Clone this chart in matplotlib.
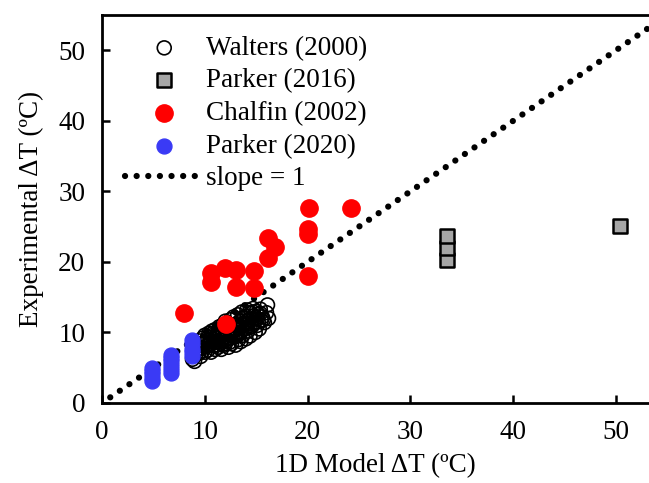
import numpy as np
import matplotlib.pyplot as plt

plt.rcParams['font.family'] = ['Liberation Serif', 'DejaVu Serif']
plt.rcParams['font.size'] = 19.5

# Walters (2000) - open circles
walters_x = [8.8, 9.0, 9.1, 9.2, 9.3, 9.4, 9.5, 9.6, 9.7, 9.8, 9.9, 10.0, 10.0, 10.1,
             10.2, 10.2, 10.3, 10.4, 10.5, 10.5, 10.6, 10.6, 10.7, 10.8, 10.8, 10.9,
             10.9, 11.0, 11.0, 11.1, 11.2, 11.2, 11.3, 11.4, 11.4, 11.5, 11.5, 11.6,
             11.6, 11.7, 11.8, 11.8, 11.9, 12.0, 12.0, 12.0, 12.1, 12.2, 12.2, 12.3,
             12.4, 12.4, 12.5, 12.5, 12.6, 12.6, 12.7, 12.8, 12.9, 12.9, 13.0, 13.0,
             13.0, 13.1, 13.2, 13.2, 13.3, 13.4, 13.5, 13.5, 13.6, 13.6, 13.7, 13.8,
             13.8, 13.9, 14.0, 14.0, 14.1, 14.2, 14.2, 14.3, 14.4, 14.5, 14.6, 14.6,
             14.7, 14.8, 14.8, 14.9, 15.0, 15.0, 15.1, 15.2, 15.3, 15.4, 15.5, 15.6,
             15.8, 16.0, 16.1, 16.2,
             9.3, 9.6, 10.0, 10.4, 10.7, 11.0, 11.3, 11.7, 12.1, 12.4, 12.8, 13.1,
             13.4, 13.7, 14.1, 14.4, 14.7, 15.1, 15.4, 15.7, 9.8, 10.6, 11.4, 12.3,
             13.3, 14.3, 15.2, 12.0, 13.0, 14.0]
walters_y = [6.2, 5.9, 6.8, 7.5, 8.1, 7.0, 8.8, 6.6, 7.8, 9.2, 8.3, 7.2, 9.6, 8.0,
             8.9, 9.1, 7.5, 9.9, 8.4, 9.0, 7.2, 9.3, 10.2, 8.1, 9.6, 9.0,
             8.6, 7.6, 10.4, 8.7, 9.5, 8.2, 7.9, 10.8, 9.4, 8.5, 9.9, 7.6,
             9.0, 11.0, 9.1, 10.0, 8.2, 10.3, 11.6, 9.0, 8.8, 9.7, 10.8, 7.9,
             10.9, 8.6, 9.2, 11.8, 8.4, 9.8, 10.1, 12.2, 9.5, 10.6, 8.2, 11.0,
             9.4, 10.4, 12.5, 9.6, 9.0, 11.6, 8.7, 10.0, 12.9, 10.8, 9.6, 11.3,
             12.0, 10.6, 9.1, 12.3, 13.2, 10.2, 11.2, 11.8, 9.5, 12.7, 10.9, 11.8,
             13.4, 11.4, 12.4, 10.0, 12.1, 13.0, 11.0, 12.6, 10.5, 13.3, 11.7, 12.2,
             11.4, 12.8, 13.9, 12.0,
             7.6, 8.4, 8.6, 8.2, 9.8, 9.3, 10.1, 8.9, 9.9, 10.3, 11.1, 9.8,
             10.9, 12.1, 11.6, 10.7, 12.9, 11.9, 12.7, 11.8, 7.4, 8.8, 10.2, 11.2,
             10.9, 12.8, 11.5, 8.4, 9.9, 10.6]

# Parker (2016) - grey squares
parker16_x = [33.6, 33.6, 33.6, 50.4]
parker16_y = [20.2, 22.0, 23.7, 25.1]

# Chalfin (2002) - red circles
chalfin_x = [8.0, 10.6, 10.6, 12.0, 13.0, 13.0, 14.8, 14.8, 16.1, 16.8, 16.1,
             20.1, 20.0, 20.0, 20.0, 24.2, 12.1]
chalfin_y = [12.8, 18.4, 17.2, 19.2, 18.8, 16.4, 18.7, 16.3, 23.4, 22.1, 20.6,
             27.7, 24.7, 24.0, 18.0, 27.7, 11.2]

# Parker (2020) - blue circles
parker20_x = [4.9, 4.9, 4.9, 4.9, 4.9, 6.7, 6.7, 6.7, 6.7, 6.7, 6.7,
              8.8, 8.8, 8.8, 8.8, 8.8]
parker20_y = [3.1, 3.6, 4.1, 4.6, 5.0, 4.3, 4.8, 5.4, 5.9, 6.4, 6.8,
              6.7, 7.2, 7.7, 8.3, 8.9]

slope_x = [0.8, 60]

fig = plt.figure(figsize=(6.49, 4.83), dpi=100)
ax = fig.add_axes([102 / 649, 1 - 403 / 483, 547 / 649, 388 / 483])

ax.plot(slope_x, slope_x, color='black', lw=4.5, linestyle=(0, (0.01, 1.85)),
        dash_capstyle='round', label='slope = 1', zorder=1)
ax.scatter(walters_x, walters_y, s=100, facecolors='none', edgecolors='black',
           linewidths=1.2, label='Walters (2000)', zorder=2)
ax.scatter(parker16_x, parker16_y, s=110, marker='s', facecolors='#a6a6a6',
           edgecolors='black', linewidths=1.8, label='Parker (2016)', zorder=3)
ax.scatter(chalfin_x, chalfin_y, s=155, color='#ff0000', label='Chalfin (2002)', zorder=3)
ax.scatter(parker20_x, parker20_y, s=115, color='#3a3af5', label='Parker (2020)', zorder=3)

ax.set_xlim(0, 547 / 10.28)
ax.set_ylim(0, 55)
ax.set_xticks([0, 10, 20, 30, 40, 50])
ax.set_yticks([0, 10, 20, 30, 40, 50])
ax.tick_params(direction='in', length=6, width=1.8, pad=12)
for side in ['left', 'bottom', 'top']:
    ax.spines[side].set_linewidth(2)
ax.spines['right'].set_visible(False)

ax.set_xlabel('1D Model \u0394T (\u00baC)', labelpad=6)
ax.set_ylabel('Experimental \u0394T (\u00baC)', labelpad=10)

handles, labels = ax.get_legend_handles_labels()
order = [1, 2, 3, 4, 0]
ax.legend([handles[i] for i in order], [labels[i] for i in order],
          loc='upper left', bbox_to_anchor=(0.042, 0.946), frameon=False,
          borderpad=0, borderaxespad=0, handlelength=2.9, handletextpad=0.08,
          labelspacing=0.28, scatterpoints=1)

fig.savefig('out.png', dpi=100)
